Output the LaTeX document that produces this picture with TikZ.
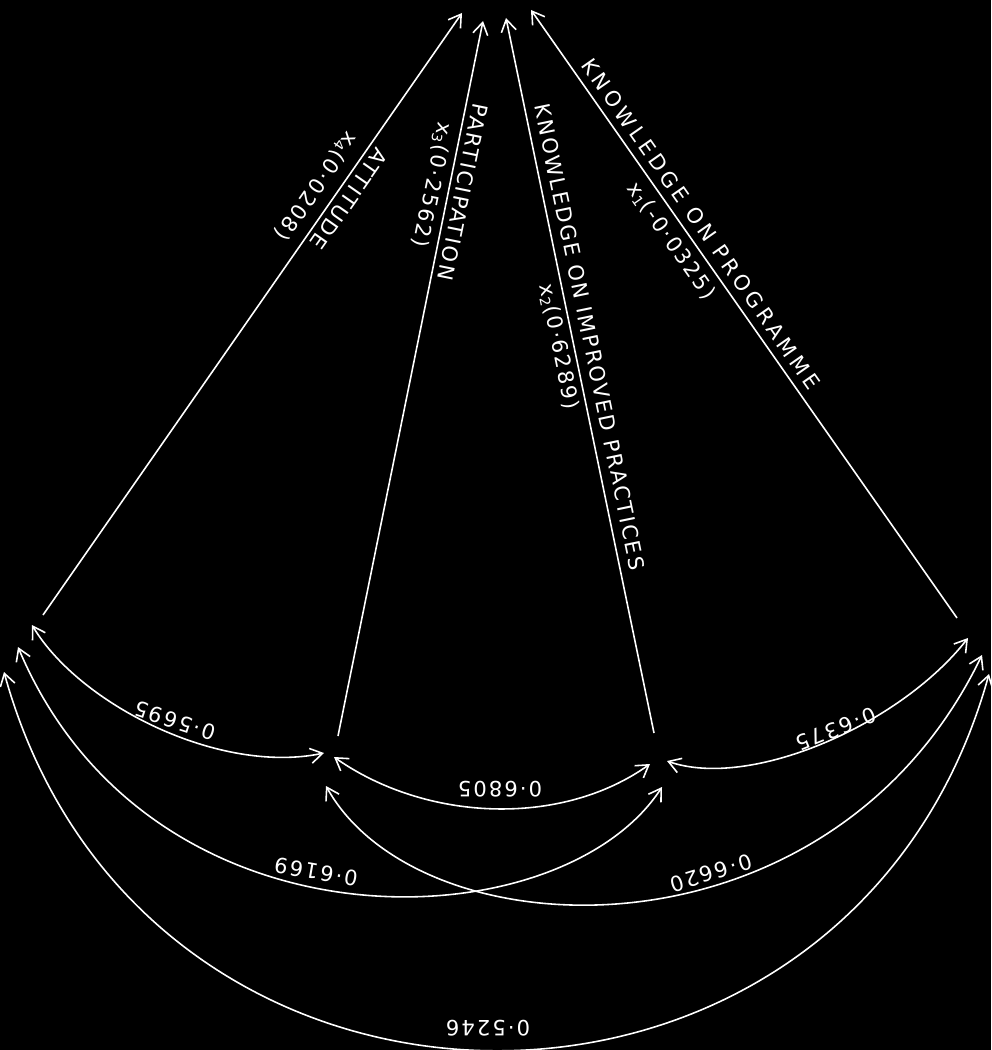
\documentclass[tikz,border=0pt]{standalone}
\usepackage{fontspec}
\newfontfamily\lett{DejaVu Sans}[LetterSpace=10]
\newfontfamily\lettwide{DejaVu Sans}[LetterSpace=19]
\usetikzlibrary{arrows.meta}
\begin{document}
\begin{tikzpicture}[x=0.02cm,y=-0.02cm,
  wire/.style={white, line width=0.9pt},
  tip/.style={-{Straight Barb[length=2.4mm,width=3mm]}},
  both/.style={{Straight Barb[length=2.4mm,width=3mm]}-{Straight Barb[length=2.4mm,width=3mm]}},
  lab/.style={text=white, font=\lett\fontsize{12}{14}\selectfont, inner sep=0pt},
  labwide/.style={text=white, font=\lettwide\fontsize{12}{14}\selectfont, inner sep=0pt}]
\path[use as bounding box, fill=black] (0,0) rectangle (991,1050);
% end points
\coordinate (T1) at (462,13);  \coordinate (T2) at (483,21);
\coordinate (T3) at (506,18);  \coordinate (T4) at (531,10);
\coordinate (L0) at (43,615);  \coordinate (A1) at (32,625);
\coordinate (A2) at (18,647);  \coordinate (A3) at (4,672);
\coordinate (C0) at (338,736); \coordinate (C1) at (324,753);
\coordinate (C2) at (334,757); \coordinate (C3) at (326,786);
\coordinate (D0) at (654,733); \coordinate (D2) at (650,764);
\coordinate (D3) at (667,761); \coordinate (D4) at (662,787);
\coordinate (R0) at (957,618); \coordinate (R1) at (968,638);
\coordinate (R2) at (982,655); \coordinate (R3) at (989,674);
% paths to the top
\draw[wire,tip] (L0) -- (T1);
\draw[wire,tip] (C0) -- (T2);
\draw[wire,tip] (D0) -- (T3);
\draw[wire,tip] (R0) -- (T4);
% correlations
\draw[wire,both] (A1) .. controls (80,705) and (220,775) .. (C1);
\draw[wire,both] (C2) .. controls (425,821) and (560,828) .. (D2);
\draw[wire,both] (D3) .. controls (750,790) and (900,725) .. (R1);
\draw[wire,both] (A2) .. controls (150,960) and (560,944) .. (D4);
\draw[wire,both] (C3) .. controls (420,955) and (830,970) .. (R2);
\draw[wire,both] (A3) .. controls (143,1176) and (850,1176) .. (R3);
% labels of paths
\node[lab,rotate=235] (n4) at (349,199) {ATTITUDE};
\node[lab,rotate=235] (c4) at (316,186) {x\textsubscript{4}(0·0208)};
\node[lab,rotate=258.5] (n3) at (463,192) {PARTICIPATION};
\node[lab,rotate=258.5] (c3) at (432,185) {x\textsubscript{3}(0·2562)};
\node[lab,rotate=281.7] (n2) at (590,337) {KNOWLEDGE ON IMPROVED PRACTICES};
\node[lab,rotate=281.7] (c2) at (559,347) {x\textsubscript{2}(0·6289)};
\node[labwide,rotate=305] (n1) at (701,224) {KNOWLEDGE ON PROGRAMME};
\node[lab,rotate=305] (c1) at (671,241) {x\textsubscript{1}(-0·0325)};
% labels of correlations
\node[lab,rotate=162] (r1) at (175,721) {0·5695};
\node[lab,rotate=180] (r2) at (500,789) {0·6805};
\node[lab,rotate=202] (r3) at (836,729) {0·6375};
\node[lab,rotate=170] (r4) at (316,872) {0·6169};
\node[lab,rotate=197] (r5) at (711,873) {0·6620};
\node[lab,rotate=180] (r6) at (488,1028) {0·5246};
\end{tikzpicture}
\end{document}
